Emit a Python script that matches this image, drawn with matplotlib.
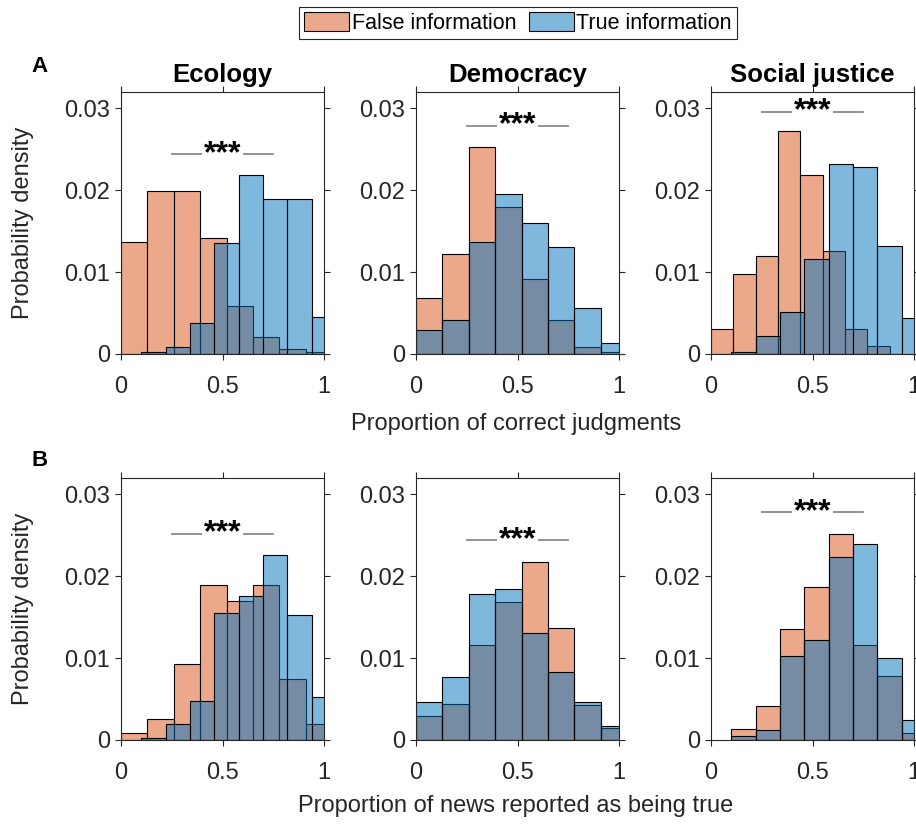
import matplotlib.pyplot as plt
import numpy as np
from matplotlib.patches import Patch

plt.rcParams['font.family'] = ['Liberation Sans', 'DejaVu Sans']

topics = ['Ecology', 'Democracy', 'Social justice']
row_labels = ['A', 'B']
xlabels = ['Proportion of correct judgments', 'Proportion of news reported as being true']

# bin edges used by the histograms
edges_w13 = [0, 0.13, 0.26, 0.39, 0.52, 0.65, 0.78, 0.91, 1.04]
edges_w12 = [0.1, 0.22, 0.34, 0.46, 0.58, 0.70, 0.82, 0.94, 1.06]
edges_w11 = [0, 0.11, 0.22, 0.33, 0.44, 0.55, 0.66, 0.77, 0.88]

# row A: proportion of correct judgments
a_false_edges = [edges_w13, edges_w13, edges_w11]
a_true_edges = [edges_w12, edges_w13, edges_w12]
a_false = [
    [0.0137, 0.0199, 0.0199, 0.0142, 0.0059, 0.0021, 0.0006, 0.0003],
    [0.0069, 0.0122, 0.0253, 0.0179, 0.0092, 0.0042, 0.0009, 0.0003],
    [0.0031, 0.0098, 0.0120, 0.0272, 0.0219, 0.0126, 0.0031, 0.0010],
]
a_true = [
    [0.0003, 0.0009, 0.0038, 0.0135, 0.0219, 0.0189, 0.0189, 0.0045],
    [0.0029, 0.0042, 0.0137, 0.0196, 0.0160, 0.0131, 0.0056, 0.0014],
    [0.0002, 0.0022, 0.0051, 0.0116, 0.0232, 0.0228, 0.0132, 0.0044],
]

# row B: proportion of news reported as being true
b_false_edges = [edges_w13, edges_w13, edges_w12]
b_true_edges = [edges_w12, edges_w13, edges_w12]
b_false = [
    [0.0008, 0.0026, 0.0093, 0.0189, 0.0170, 0.0189, 0.0075, 0.0020],
    [0.0029, 0.0044, 0.0116, 0.0168, 0.0217, 0.0137, 0.0043, 0.0015],
    [0.0013, 0.0042, 0.0136, 0.0187, 0.0252, 0.0116, 0.0078, 0.0009],
]
b_true = [
    [0.0003, 0.0020, 0.0048, 0.0155, 0.0176, 0.0226, 0.0153, 0.0052],
    [0.0047, 0.0077, 0.0178, 0.0185, 0.0131, 0.0083, 0.0047, 0.0017],
    [0.0005, 0.0012, 0.0102, 0.0122, 0.0224, 0.0239, 0.0100, 0.0025],
]

# height of the "***" bracket in each panel
a_sig = [0.0244, 0.0279, 0.0296]
b_sig = [0.0252, 0.0244, 0.0278]

rows = [
    (a_false_edges, a_false, a_true_edges, a_true, a_sig),
    (b_false_edges, b_false, b_true_edges, b_true, b_sig),
]

c_false = (0.85, 0.325, 0.098, 0.5)
c_true = (0.0, 0.447, 0.741, 0.5)
dark = '#262626'

W, H = 916, 825
fig = plt.figure(figsize=(W / 100, H / 100), dpi=100)

lefts = [121, 416, 711]
tops = [92, 478]
aw, ah = 203, 262

for r in range(2):
    fe_list, fh_list, te_list, th_list, sig = rows[r]
    for c in range(3):
        ax = fig.add_axes([lefts[c] / W, 1 - (tops[r] + ah) / H, aw / W, ah / H])
        fe = np.array(fe_list[c])
        te = np.array(te_list[c])
        ax.bar(fe[:-1], fh_list[c], width=np.diff(fe), align='edge',
               facecolor=c_false, edgecolor='k', linewidth=0.8)
        ax.bar(te[:-1], th_list[c], width=np.diff(te), align='edge',
               facecolor=c_true, edgecolor='k', linewidth=0.8)
        ax.set_xlim(0, 1)
        ax.set_ylim(0, 0.032)
        ax.set_xticks([0, 0.5, 1])
        ax.set_xticklabels(['0', '0.5', '1'])
        ax.set_yticks([0, 0.01, 0.02, 0.03])
        ax.set_yticklabels(['0', '0.01', '0.02', '0.03'])
        ax.tick_params(direction='out', top=True, right=True, length=4, width=0.8,
                       colors=dark, labelsize=17)
        ax.tick_params(axis='x', pad=12)
        ax.tick_params(axis='y', pad=4)
        for s in ax.spines.values():
            s.set_color(dark)
            s.set_linewidth(0.8)

        ax.plot([0.25, 0.75], [sig[c], sig[c]], color='#8a8a8a', lw=1.3)
        ax.annotate('***', (0.5, sig[c]), xytext=(0, -5.5), textcoords='offset points',
                    ha='center', va='baseline', fontsize=23, fontweight='bold',
                    bbox=dict(facecolor='white', edgecolor='none', pad=1))

        if r == 0:
            ax.set_title(topics[c], fontsize=18.5, fontweight='bold', pad=7)
        if c == 0:
            ax.set_ylabel('Probability density', fontsize=17, color=dark)
            ax.yaxis.set_label_coords(-0.43, 0.5)

fig.text(40 / W, 1 - 67 / H, row_labels[0], fontsize=16, fontweight='bold', ha='center', va='center')
fig.text(40 / W, 1 - 460 / H, row_labels[1], fontsize=16, fontweight='bold', ha='center', va='center')
fig.text(516 / W, 1 - 424 / H, xlabels[0], fontsize=17, color=dark, ha='center', va='center')
fig.text(516 / W, 1 - 806 / H, xlabels[1], fontsize=17, color=dark, ha='center', va='center')

handles = [Patch(facecolor=c_false, edgecolor='k', linewidth=0.8),
           Patch(facecolor=c_true, edgecolor='k', linewidth=0.8)]
leg = fig.legend(handles, ['False information', 'True information'], loc='center',
                 bbox_to_anchor=(518 / W, 1 - 23 / H), ncol=2, fontsize=15.5,
                 frameon=True, fancybox=False, edgecolor=dark, handlelength=2.1,
                 handleheight=0.95, handletextpad=0.1, columnspacing=0.6,
                 borderpad=0.25, borderaxespad=0)
leg.get_frame().set_linewidth(0.8)
leg.get_frame().set_alpha(1)

fig.savefig('out.png', dpi=100)
